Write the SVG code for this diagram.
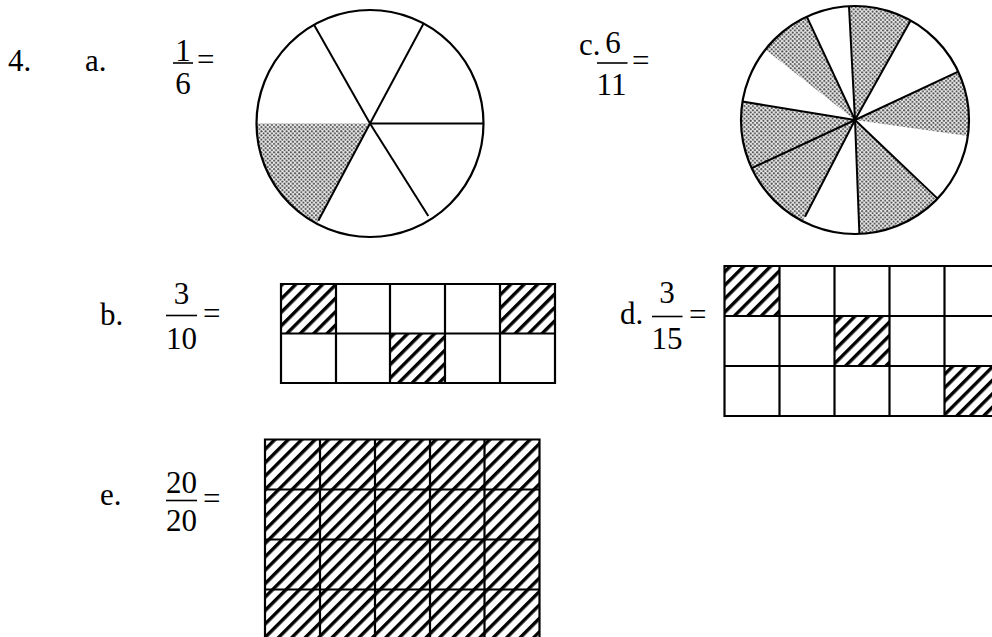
<svg xmlns="http://www.w3.org/2000/svg" width="992" height="637" viewBox="0 0 992 637">
<style>
text{font-family:"Liberation Serif","Times New Roman",serif;font-size:31px;fill:#000}
.mid{text-anchor:middle}
.bar{stroke:#000;stroke-width:1.6}
.outline{fill:none;stroke:#000;stroke-width:2.2}
.spoke{stroke:#000;stroke-width:2}
.dots{fill:url(#dots);stroke:none}
.hatch{fill:url(#hatch);stroke:none}
.grid{fill:none;stroke:#000;stroke-width:2.2}
</style>
<defs>
<pattern id="dots" patternUnits="userSpaceOnUse" width="4.2" height="4.2">
<rect width="4.2" height="4.2" fill="#ebebeb"/>
<circle cx="1.05" cy="1.05" r="1" fill="#4a4a4a"/>
<circle cx="3.15" cy="3.15" r="1" fill="#4a4a4a"/>
</pattern>
<pattern id="hatch" patternUnits="userSpaceOnUse" width="9.5" height="9.5" patternTransform="rotate(45)">
<rect width="9.5" height="9.5" fill="#fff"/>
<rect x="0" y="0" width="3.4" height="9.5" fill="#000"/>
</pattern>
</defs>

<g id="labels">
<text x="8" y="71">4.</text>
<text x="85" y="71">a.</text>
<text x="100" y="325">b.</text>
<text x="579" y="55">c.</text>
<text x="620" y="324">d.</text>
<text x="100" y="505">e.</text>
</g>

<g id="frac-a">
<text class="mid" x="183" y="61">1</text>
<line class="bar" x1="173" y1="63" x2="193" y2="63"/>
<text class="mid" x="183" y="94">6</text>
<text x="197" y="70">=</text>
</g>
<g id="frac-b">
<text class="mid" x="181.5" y="304">3</text>
<line class="bar" x1="166" y1="315.5" x2="197" y2="315.5"/>
<text class="mid" x="181.5" y="349">10</text>
<text x="203" y="324">=</text>
</g>
<g id="frac-c">
<text class="mid" x="613" y="53">6</text>
<line class="bar" x1="597" y1="63" x2="627.5" y2="63"/>
<text class="mid" x="611.5" y="95">11</text>
<text x="632" y="71">=</text>
</g>
<g id="frac-d">
<text class="mid" x="667" y="303">3</text>
<line class="bar" x1="652" y1="316.5" x2="682.5" y2="316.5"/>
<text class="mid" x="667" y="349">15</text>
<text x="689" y="325">=</text>
</g>
<g id="frac-e">
<text class="mid" x="181.5" y="493">20</text>
<line class="bar" x1="166" y1="500.5" x2="197" y2="500.5"/>
<text class="mid" x="181.5" y="531">20</text>
<text x="203" y="509">=</text>
</g>

<g id="circle-a">
<path class="dots" d="M370,123.5 L316.7,223.7 A113.5,113.5 0 0 1 256.5,123.5 Z"/>
<circle class="outline" cx="370" cy="123.5" r="113.5"/>
<line class="spoke" x1="370" y1="123.5" x2="314" y2="24.7"/>
<line class="spoke" x1="370" y1="123.5" x2="423.3" y2="24"/>
<line class="spoke" x1="370" y1="123.5" x2="483.5" y2="123.5"/>
<line class="spoke" x1="370" y1="123.5" x2="428.3" y2="216"/>
<line class="spoke" x1="370" y1="123.5" x2="318.3" y2="220.7"/>
</g>

<g id="circle-c">
<path class="dots" d="M855,120 L849,6.2 A114,114 0 0 1 910.6,20.5 Z"/>
<path class="dots" d="M855,120 L958.2,71.6 A114,114 0 0 1 967.9,135.9 Z"/>
<path class="dots" d="M855,120 L937.6,198.6 A114,114 0 0 1 859.4,233.9 Z"/>
<path class="dots" d="M855,120 L802.7,221.3 A114,114 0 0 1 742.5,101.6 Z"/>
<path class="dots" d="M855,120 L765.4,49.5 A114,114 0 0 1 806.8,16.7 Z"/>
<circle class="outline" cx="855" cy="120" r="114"/>
<line class="spoke" x1="855" y1="120" x2="849" y2="6.2"/>
<line class="spoke" x1="855" y1="120" x2="910.6" y2="20.5"/>
<line class="spoke" x1="855" y1="120" x2="958.2" y2="71.6"/>
<line class="spoke" x1="855" y1="120" x2="937.6" y2="198.6"/>
<line class="spoke" x1="855" y1="120" x2="859.4" y2="233.9"/>
<line class="spoke" x1="855" y1="120" x2="805" y2="216.7"/>
<line class="spoke" x1="855" y1="120" x2="751.7" y2="168.2"/>
<line class="spoke" x1="855" y1="120" x2="742.5" y2="101.6"/>
<line class="spoke" x1="855" y1="120" x2="806.8" y2="16.7"/>
</g>

<g id="grid-b">
<rect class="hatch" x="281" y="284" width="55" height="49.5"/>
<rect class="hatch" x="500" y="284" width="55" height="49.5"/>
<rect class="hatch" x="390" y="333.5" width="55" height="49.5"/>
<path class="grid" d="M281,284 H555 V383 H281 Z M281,333.5 H555 M336,284 V383 M390,284 V383 M445,284 V383 M500,284 V383"/>
</g>

<g id="grid-d">
<rect class="hatch" x="724.5" y="266" width="55" height="50"/>
<rect class="hatch" x="834.5" y="316" width="55" height="50"/>
<rect class="hatch" x="944.5" y="366" width="55" height="50"/>
<path class="grid" d="M724.5,266 H999.5 V416 H724.5 Z M724.5,316 H999.5 M724.5,366 H999.5 M779.5,266 V416 M834.5,266 V416 M889.5,266 V416 M944.5,266 V416"/>
</g>

<g id="grid-e">
<rect class="hatch" x="265" y="439.5" width="274.5" height="200"/>
<path class="grid" d="M265,439.5 H539.5 V639.5 H265 Z M265,489.5 H539.5 M265,539.5 H539.5 M265,589.5 H539.5 M320,439.5 V639.5 M375,439.5 V639.5 M430,439.5 V639.5 M484.5,439.5 V639.5"/>
</g>
</svg>
